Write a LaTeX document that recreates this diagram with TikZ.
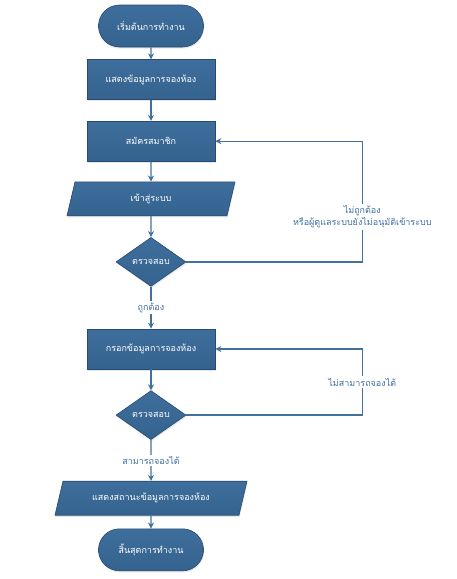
\documentclass[tikz,border=0pt]{standalone}
\usepackage{fontspec}
\newfontfamily\thaifont[Script=Thai]{Loma}
\usetikzlibrary{arrows.meta,positioning,calc,shapes.geometric,shapes.misc,shadows}
\definecolor{FlowFill}{HTML}{35638F}
\definecolor{FlowTop}{HTML}{3E6E9C}
\definecolor{FlowEdge}{HTML}{264B70}
\definecolor{FlowLine}{HTML}{41719C}
\definecolor{NoteText}{HTML}{3F6FA3}

\tikzset{
  shapebase/.style={draw=FlowEdge, line width=0.6pt, top color=FlowTop, bottom color=FlowFill, text=white, align=center, inner sep=1pt,
    drop shadow={opacity=0.2, shadow xshift=0.6pt, shadow yshift=-1.6pt}},
  termbox/.style={shapebase, rounded rectangle, minimum width=107pt, minimum height=42pt},
  procbox/.style={shapebase, rectangle, minimum width=128pt, minimum height=40pt},
  iobox/.style={shapebase, trapezium, trapezium left angle=56, trapezium right angle=124, trapezium stretches body, minimum height=34pt},
  decision/.style={shapebase, diamond, minimum width=70pt, minimum height=49pt, inner sep=0pt},
  flow/.style={-{Stealth[length=6pt, width=6pt]}, line width=1.4pt, color=FlowLine},
  note/.style={fill=white, text=NoteText, align=center, inner sep=1.5pt}
}

\begin{document}
\begin{tikzpicture}[every node/.style={font=\thaifont\fontsize{9}{12}\selectfont}]
\useasboundingbox (0,0) rectangle (456pt,-579pt);
\node[termbox] (start) at (151pt,-26pt) {เริ่มต้นการทำงาน};
\node[procbox, below=12pt of start] (showroom) {แสดงข้อมูลการจองห้อง};
\node[procbox, below=21pt of showroom] (signup) {สมัครสมาชิก};
\node[iobox, minimum width=168pt, below=20pt of signup] (login) {เข้าสู่ระบบ};
\node[decision, below=21pt of login] (checklogin) {ตรวจสอบ};
\node[procbox, below=42pt of checklogin] (fillroom) {กรอกข้อมูลการจองห้อง};
\node[decision, below=21pt of fillroom] (checkroom) {ตรวจสอบ};
\node[iobox, minimum width=192pt, below=41pt of checkroom] (status) {แสดงสถานะข้อมูลการจองห้อง};
\node[termbox, below=13pt of status] (finish) {สิ้นสุดการทำงาน};

% loop back corners
\coordinate (backlogin) at ($(checklogin.east)+(176pt,0)$);
\coordinate (backroom) at ($(checkroom.east)+(176pt,0)$);

\draw[flow] (start) -- (showroom);
\draw[flow] (showroom) -- (signup);
\draw[flow] (signup) -- (login);
\draw[flow] (login) -- (checklogin);
\draw[flow] (checklogin) -- node[note] {ถูกต้อง} (fillroom);
\draw[flow] (fillroom) -- (checkroom);
\draw[flow] (checkroom) -- node[note] {สามารถจองได้} (status);
\draw[flow] (status) -- (finish);
\draw[flow] (checklogin.east) -- (backlogin) |- node[note, pos=0.186] {ไม่ถูกต้อง\\หรือผู้ดูแลระบบยังไม่อนุมัติเข้าระบบ} (signup.east);
\draw[flow] (checkroom.east) -- (backroom) |- node[note, pos=0.25] {ไม่สามารถจองได้} (fillroom.east);
\end{tikzpicture}
\end{document}
